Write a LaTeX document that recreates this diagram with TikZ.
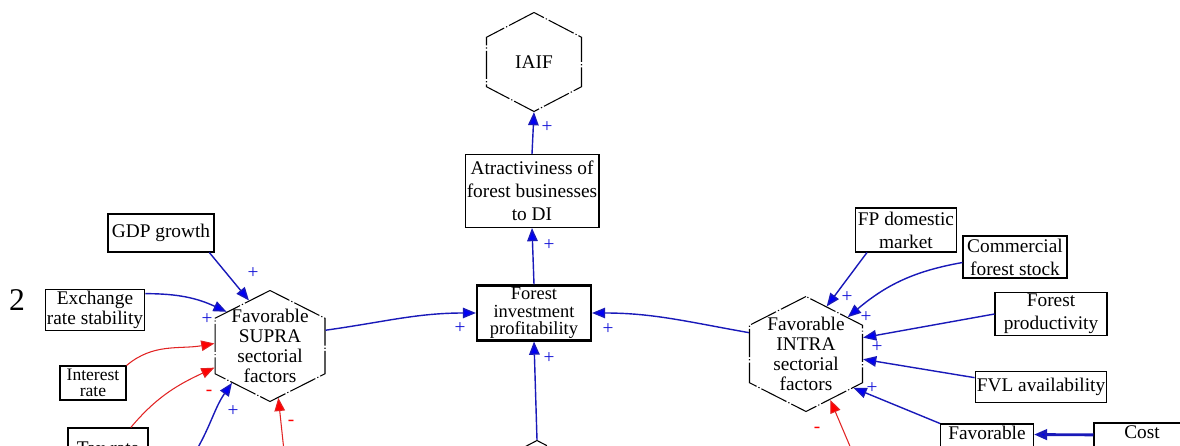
\documentclass[tikz,border=0pt]{standalone}
\usepackage{fontspec}
\setmainfont{Liberation Serif}
\usetikzlibrary{shapes.geometric,arrows.meta}
\definecolor{linkblue}{RGB}{25,25,185}
\definecolor{tipblue}{RGB}{0,0,245}
\definecolor{linkred}{RGB}{225,35,35}
\definecolor{signblue}{RGB}{20,20,215}
\begin{document}
\begin{tikzpicture}[x=0.02cm,y=0.02cm,
    every node/.style={font=\fontsize{11}{13}\selectfont},
    box/.style={draw, line width=0.6pt, inner sep=1pt, align=center},
    hexa/.style={draw, line width=0.6pt, dash pattern=on 16pt off 1.2pt on 0.7pt off 1.2pt,
      regular polygon, regular polygon sides=6, shape border rotate=30,
      transform shape, inner sep=0pt},
    hexlabel/.style={align=center, font=\fontsize{11}{11.3}\selectfont},
    poslink/.style={draw=linkblue, line width=0.8pt, -{Triangle[length=7.5pt,width=6pt,fill=tipblue]}},
    neglink/.style={draw=linkred, line width=0.6pt, -{Triangle[length=7.5pt,width=6pt,fill=red]}},
    plussign/.style={text=signblue, font=\fontsize{11}{11}\selectfont},
    minussign/.style={text=red, font=\fontsize{11}{11}\selectfont}]
  \useasboundingbox (0,0) rectangle (1180,446);
  \clip (0,0) rectangle (1180,446);

  \node[font=\fontsize{18}{20}\selectfont] (pagenum) at (17,146) {2};

  % hexagons
  \node[hexa, minimum size=1.98cm, xscale=1.108, label={[hexlabel]center:IAIF}] (iaif) at (534,384) {};
  \node[hexa, minimum size=2.22cm, xscale=1.144,
    label={[hexlabel]center:Favorable\\SUPRA\\sectorial\\factors}] (supra) at (270,100) {};
  \node[hexa, minimum size=2.3cm, xscale=1.135,
    label={[hexlabel]center:Favorable\\INTRA\\sectorial\\factors}] (intra) at (806,92) {};
  \node[hexa, minimum size=1.98cm, xscale=1.108] (lower) at (537,-44) {};

  % boxes
  \node[box, minimum width=2.54cm, minimum height=1.46cm] (atr) at (532,255) {Atractiviness of\\forest businesses\\to DI};
  \node[box, line width=1.2pt, minimum width=2.28cm, minimum height=1.1cm,
    font=\fontsize{10.5}{9.8}\selectfont] (profit) at (534,133) {Forest\\investment\\profitability};
  \node[box, minimum width=2.12cm, minimum height=0.76cm] (gdp) at (161,213) {GDP growth};
  \node[box, minimum width=1.92cm, minimum height=0.82cm,
    font=\fontsize{11}{10}\selectfont] (exch) at (95,136) {Exchange\\rate stability};
  \node[box, minimum width=1.32cm, minimum height=0.68cm, inner sep=0pt,
    font=\fontsize{10}{9.3}\selectfont] (interest) at (93,63) {Interest\\rate};
  \node[box, minimum width=1.6cm, minimum height=0.8cm] (tax) at (108,-2) {Tax rate};
  \node[box, minimum width=2.02cm, minimum height=0.88cm] (fpdm) at (906,216) {FP domestic\\market};
  \node[box, minimum width=2.08cm, minimum height=0.84cm] (stock) at (1015,189) {Commercial\\forest stock};
  \node[box, minimum width=2.24cm, minimum height=0.84cm] (prod) at (1051,132) {Forest\\productivity};
  \node[box, minimum width=2.5cm, minimum height=0.62cm] (fvl) at (1041,59) {FVL availability};
  \node[box, minimum width=1.86cm, minimum height=0.96cm] (fav) at (987,-2) {Favorable\\\strut};
  \node[box, minimum width=1.92cm, minimum height=0.96cm] (cost) at (1142,-1) {Cost\\\strut};

  % free ends below the frame
  \coordinate (supraup) at (196,-5);
  \coordinate (supradown) at (284,-5);
  \coordinate (intradown) at (852,-5);

  % links
  \draw[poslink] (atr.north) -- (iaif.south);
  \draw[poslink] (profit.north) -- (atr.south);
  \draw[poslink] (lower.north) -- (profit.south);
  \draw[poslink] (supra.18) to[out=8, in=180] (profit.west);
  \draw[poslink] (intra.157) to[out=170, in=0] (profit.east);
  \draw[poslink] (gdp.-22) -- (supra.112);
  \draw[poslink] (exch.18) to[out=0, in=155] (supra.138);
  \draw[neglink] (interest.north east) to[out=40, in=190] (supra.177);
  \draw[neglink] (tax.42) to[out=50, in=205] (supra.204);
  \draw[poslink] (supraup) to[out=60, in=235] (supra.228);
  \draw[neglink] (supradown) -- (supra.278);
  \draw[poslink] (fpdm.210) -- (intra.69);
  \draw[poslink] (stock.186) to[out=190, in=40] (intra.45);
  \draw[poslink] (prod.west) -- (intra.18);
  \draw[poslink] (fvl.172) -- (intra.-6);
  \draw[poslink] (fav.north west) -- (intra.-39);
  \draw[poslink, line width=1.6pt] (cost.166) -- (fav.16);
  \draw[neglink] (intradown) -- (intra.-65);

  % signs
  \node[plussign] (s1) at (547,319) {+};
  \node[plussign] (s2) at (549,201) {+};
  \node[plussign] (s3) at (549,88) {+};
  \node[plussign] (s4) at (460,118) {+};
  \node[plussign] (s5) at (608,117) {+};
  \node[plussign] (s6) at (253,173) {+};
  \node[plussign] (s7) at (207,127) {+};
  \node[minussign] (s8) at (209,53) {-};
  \node[plussign] (s9) at (233,35) {+};
  \node[minussign] (s10) at (291,23) {-};
  \node[plussign] (s11) at (847,149) {+};
  \node[plussign] (s12) at (866,129) {+};
  \node[plussign] (s13) at (877,99) {+};
  \node[plussign] (s14) at (872,58) {+};
  \node[minussign] (s15) at (817,16) {-};
\end{tikzpicture}
\end{document}
